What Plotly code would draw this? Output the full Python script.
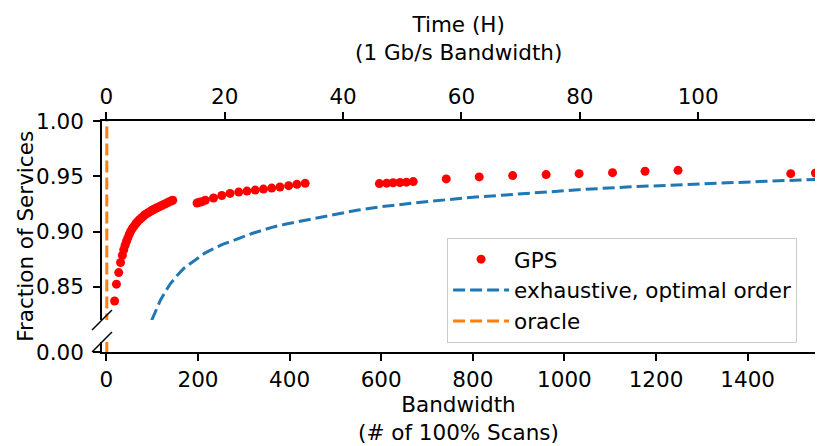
import plotly.graph_objects as go

# ---------------- data ----------------
gps_bw = [18, 22, 27, 31,
          35, 38, 41, 44, 47, 50, 53, 57, 61, 65, 69, 73, 77, 81, 85, 89,
          93, 97, 101, 105, 109, 113, 117, 121, 125, 129, 133, 137, 141, 145,
          198, 203, 208, 216, 234, 252, 270, 289, 307, 325, 343, 361, 379, 398, 416, 434,
          596, 612, 626, 641, 655, 670,
          742, 814, 887, 960, 1032, 1105, 1176, 1248, 1494, 1548]
gps_frac = [0.8372, 0.8524, 0.8629, 0.8720,
            0.8786, 0.8835, 0.8876, 0.8912, 0.8943, 0.8975, 0.9002, 0.9030, 0.9052, 0.9075,
            0.9094, 0.9110, 0.9125, 0.9140, 0.9154, 0.9165, 0.9175, 0.9185, 0.9195, 0.9204,
            0.9212, 0.9220, 0.9228, 0.9236, 0.9244, 0.9252, 0.9260, 0.9268, 0.9276, 0.9283,
            0.9258, 0.9264, 0.9270, 0.9283, 0.9304, 0.9326, 0.9345, 0.9357, 0.9366, 0.9375,
            0.9384, 0.9393, 0.9403, 0.9415, 0.9427, 0.9436,
            0.9434, 0.9438, 0.9441, 0.9444, 0.9447, 0.9452,
            0.9476, 0.9494, 0.9506, 0.9515, 0.9524, 0.9533, 0.9545, 0.9554, 0.9524, 0.9530]

exh_bw = [99, 110, 118, 130, 140, 155, 169, 185, 198, 215, 234, 255, 278, 300, 321, 345,
          365, 390, 416, 440, 467, 503, 550, 600, 650, 707, 800, 925, 1030, 1136, 1223,
          1330, 1440, 1550]
exh_frac = [0.8198, 0.8300, 0.8379, 0.8465, 0.8530, 0.8605, 0.8666, 0.8715, 0.8756, 0.8805,
            0.8846, 0.8886, 0.8921, 0.8955, 0.8987, 0.9017, 0.9042, 0.9066, 0.9087, 0.9110,
            0.9132, 0.9163, 0.9195, 0.9225, 0.9250, 0.9274, 0.9310, 0.9349, 0.9378, 0.9403,
            0.9419, 0.9437, 0.9455, 0.9472]

oracle_bw = [1, 1]
oracle_frac = [0.0, 1.0]

bw_range = [-9.5, 1547]
scans_per_hour = 12.92
hour_ticks = [0, 20, 40, 60, 80, 100]
bw_ticks = [0, 200, 400, 600, 800, 1000, 1200, 1400]
frac_ticks_upper = [0.85, 0.90, 0.95, 1.00]
frac_ticks_lower = [0.0]

# ---------------- figure ----------------
FONT = "DejaVu Sans"
FS = 21.5
BLUE = "#1f77b4"
ORANGE = "#ff7f0e"
DASH = "12px,5px"

fig = go.Figure()

fig.add_trace(go.Scatter(x=gps_bw, y=gps_frac, mode="markers", name="GPS",
                         marker=dict(color="red", size=9, line=dict(width=0)),
                         xaxis="x", yaxis="y"))
fig.add_trace(go.Scatter(x=exh_bw, y=exh_frac, mode="lines", name="exhaustive, optimal order",
                         line=dict(color=BLUE, width=3, dash=DASH),
                         xaxis="x", yaxis="y"))
fig.add_trace(go.Scatter(x=oracle_bw, y=oracle_frac, mode="lines", name="oracle",
                         line=dict(color=ORANGE, width=3, dash=DASH),
                         xaxis="x", yaxis="y"))
fig.add_trace(go.Scatter(x=oracle_bw, y=oracle_frac, mode="lines", showlegend=False,
                         line=dict(color=ORANGE, width=3, dash=DASH),
                         xaxis="x", yaxis="y2", hoverinfo="skip"))
# invisible trace so the top (time) axis is drawn
fig.add_trace(go.Scatter(x=[hour_ticks[0], hour_ticks[-1]], y=[0.9, 0.9], mode="markers",
                         marker=dict(opacity=0), showlegend=False, hoverinfo="skip",
                         xaxis="x2", yaxis="y"))

axis_common = dict(showgrid=False, zeroline=False, showline=True, linecolor="black",
                   linewidth=1.5, ticks="outside", ticklen=7, tickwidth=1.5,
                   tickcolor="black", automargin=False,
                   tickfont=dict(family=FONT, size=FS, color="black"))

fig.update_layout(
    width=830, height=446,
    margin=dict(l=102, r=15, t=121, b=94),
    paper_bgcolor="white", plot_bgcolor="white",
    font=dict(family=FONT, size=FS, color="black"),
    xaxis=dict(range=bw_range, tickvals=bw_ticks, anchor="y2", **axis_common),
    xaxis2=dict(range=[bw_range[0] / scans_per_hour, bw_range[1] / scans_per_hour],
                tickvals=hour_ticks, overlaying="x", side="top", anchor="y", **axis_common),
    yaxis=dict(domain=[0.1385, 1.0], range=[0.82, 1.0], tickvals=frac_ticks_upper,
               tickformat=".2f", anchor="x", ticklabelstandoff=5, **axis_common),
    yaxis2=dict(domain=[0.0, 0.0433], range=[0.0, 0.01], tickvals=frac_ticks_lower,
                tickformat=".2f", anchor="x", ticklabelstandoff=5, **axis_common),
    showlegend=True,
    legend=dict(x=0.484, y=0.495, xanchor="left", yanchor="top",
                bgcolor="rgba(255,255,255,0.8)", bordercolor="#cccccc", borderwidth=1,
                font=dict(family=FONT, size=FS, color="black"),
                itemwidth=56),
)

# axis titles
fig.add_annotation(text="Time (H)<br>(1 Gb/s Bandwidth)", xref="paper", yref="paper",
                   x=0.5, y=1.355, xanchor="center", yanchor="middle", showarrow=False,
                   font=dict(family=FONT, size=FS, color="black"))
fig.add_annotation(text="Bandwidth<br>(# of 100% Scans)", xref="paper", yref="paper",
                   x=0.5, y=-0.29, xanchor="center", yanchor="middle", showarrow=False,
                   font=dict(family=FONT, size=FS, color="black"))
fig.add_annotation(text="Fraction of Services", xref="paper", yref="paper",
                   x=-0.1076, y=0.5, xanchor="center", yanchor="middle", showarrow=False,
                   textangle=-90, font=dict(family=FONT, size=FS, color="black"))

# broken-axis diagonal marks
dx, dy = 0.014, 0.0433
for yc in (0.1385, 0.0433):
    fig.add_shape(type="line", xref="paper", yref="paper",
                  x0=-dx, y0=yc - dy, x1=dx, y1=yc + dy,
                  line=dict(color="black", width=1.5))

fig.write_html("out.html", post_script="document.body.style.margin='0';",
               config={"displayModeBar": False})
